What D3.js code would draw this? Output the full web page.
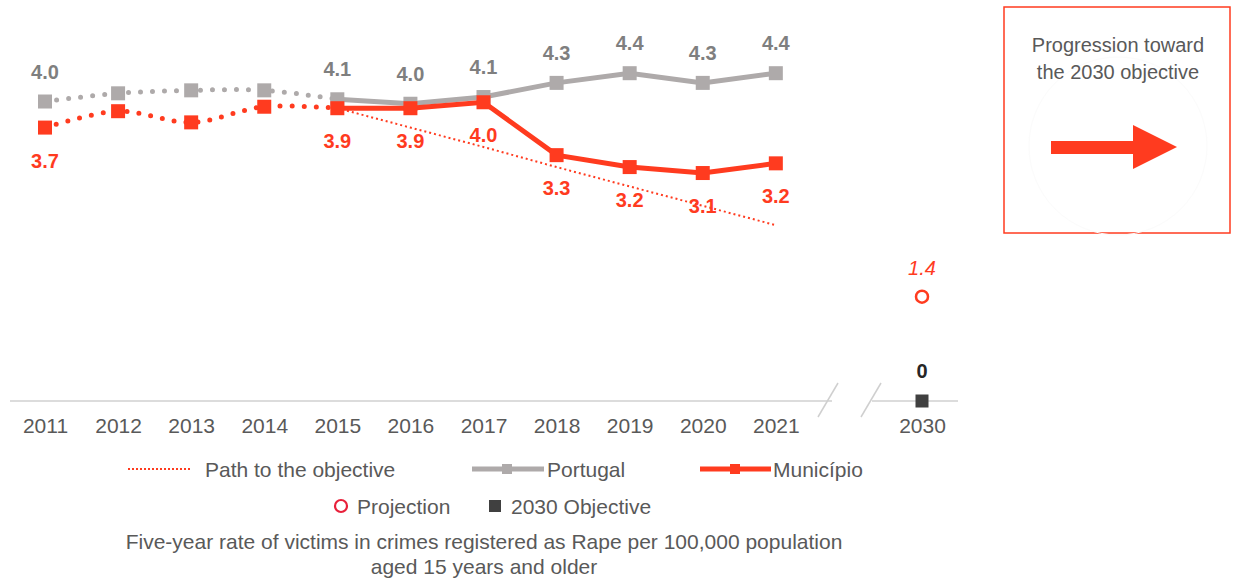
<!DOCTYPE html>
<html>
<head>
<meta charset="utf-8">
<script src="https://cdn.jsdelivr.net/npm/d3@7"></script>
<style>
  body { margin: 0; background: #fff; }
  text { font-family: "Liberation Sans", Arial, sans-serif; }
</style>
</head>
<body>
<script>
// data
var years = ["2011","2012","2013","2014","2015","2016","2017","2018","2019","2020","2021"];
var portugal = [4.02, 4.13, 4.17, 4.17, 4.05, 3.99, 4.08, 4.27, 4.40, 4.27, 4.40];
var portugalLabels = ["4.0", "", "", "", "4.1", "4.0", "4.1", "4.3", "4.4", "4.3", "4.4"];
var municipio = [3.67, 3.89, 3.74, 3.95, 3.93, 3.93, 4.01, 3.30, 3.14, 3.06, 3.19];
var municipioLabels = ["3.7", "", "", "", "3.9", "3.9", "4.0", "3.3", "3.2", "3.1", "3.2"];
var pathYears = ["2015","2016","2017","2018","2019","2020","2021"];
var pathValues = [3.93, 3.67, 3.41, 3.14, 2.88, 2.62, 2.36];
var projection = {year: "2030", value: 1.4, label: "1.4"};
var objective = {year: "2030", value: 0, label: "0"};
var axisCats = years.concat(["gap", "2030"]);

var RED = "#ff3b1f", GRAY = "#aeaaaa", DARK = "#404040", TXT = "#595959";

var svg = d3.select("body").append("svg")
  .attr("width", 1235).attr("height", 578);

var x = d3.scalePoint().domain(axisCats).range([45, 922]);
var y = d3.scaleLinear().domain([0, 5]).range([401, 28.5]);

// baseline with break
var base = 401;
svg.append("line").attr("x1", 10).attr("x2", 832).attr("y1", base).attr("y2", base)
  .attr("stroke", "#d0d0d0").attr("stroke-width", 1.5);
svg.append("line").attr("x1", 872).attr("x2", 958).attr("y1", base).attr("y2", base)
  .attr("stroke", "#d0d0d0").attr("stroke-width", 1.5);
[838, 881].forEach(function(bx) {
  svg.append("line").attr("x1", bx).attr("y1", base - 18).attr("x2", bx - 20).attr("y2", base + 16)
    .attr("stroke", "#cfcfcf").attr("stroke-width", 1.5);
});

// x axis labels
var xAxis = svg.append("g").attr("transform", "translate(0," + base + ")")
  .call(d3.axisBottom(x).tickSize(0).tickPadding(17)
    .tickFormat(function(d) { return d === "gap" ? "" : d; }));
xAxis.select(".domain").remove();
xAxis.selectAll("text").attr("font-size", 21).attr("fill", TXT)
  .style("font-family", "Liberation Sans, Arial, sans-serif");

function pts(vals, cats) {
  return vals.map(function(v, i) { return [x(cats[i]), y(v)]; });
}

var smooth = d3.line().curve(d3.curveCatmullRom.alpha(0.5));
var straight = d3.line();

var pPts = pts(portugal, years), mPts = pts(municipio, years);

// dotted early parts (2011-2015)
svg.append("path").attr("d", smooth(pPts.slice(0, 5))).attr("fill", "none")
  .attr("stroke", GRAY).attr("stroke-width", 5).attr("stroke-linecap", "round")
  .attr("stroke-dasharray", "0,12");
svg.append("path").attr("d", smooth(mPts.slice(0, 5))).attr("fill", "none")
  .attr("stroke", RED).attr("stroke-width", 5).attr("stroke-linecap", "round")
  .attr("stroke-dasharray", "0,12");

// path to the objective
svg.append("path").attr("d", straight(pts(pathValues, pathYears))).attr("fill", "none")
  .attr("stroke", RED).attr("stroke-width", 2).attr("stroke-dasharray", "2,3");

// solid parts
svg.append("path").attr("d", straight(pPts.slice(4))).attr("fill", "none")
  .attr("stroke", GRAY).attr("stroke-width", 5);
var sq = 14;
svg.selectAll(".psq").data(pPts).enter().append("rect")
  .attr("x", function(d) { return d[0] - sq / 2; }).attr("y", function(d) { return d[1] - sq / 2; })
  .attr("width", sq).attr("height", sq).attr("fill", GRAY);

svg.append("path").attr("d", straight(mPts.slice(4))).attr("fill", "none")
  .attr("stroke", RED).attr("stroke-width", 5);
svg.selectAll(".msq").data(mPts).enter().append("rect")
  .attr("x", function(d) { return d[0] - sq / 2; }).attr("y", function(d) { return d[1] - sq / 2; })
  .attr("width", sq).attr("height", sq).attr("fill", RED);

// data labels
svg.selectAll(".pl").data(pPts).enter().append("text")
  .attr("x", function(d) { return d[0]; }).attr("y", function(d) { return d[1] - 23; })
  .attr("text-anchor", "middle").attr("font-size", 20).attr("font-weight", "bold")
  .attr("fill", "#7f7f7f").text(function(d, i) { return portugalLabels[i]; });
svg.selectAll(".ml").data(mPts).enter().append("text")
  .attr("x", function(d) { return d[0]; }).attr("y", function(d) { return d[1] + 40; })
  .attr("text-anchor", "middle").attr("font-size", 20).attr("font-weight", "bold")
  .attr("fill", RED).text(function(d, i) { return municipioLabels[i]; });

// 2030 projection and objective
svg.append("circle").attr("cx", x(projection.year)).attr("cy", y(projection.value)).attr("r", 6)
  .attr("fill", "#fff").attr("stroke", RED).attr("stroke-width", 2.5);
svg.append("text").attr("x", x(projection.year)).attr("y", y(projection.value) - 22)
  .attr("text-anchor", "middle").attr("font-size", 20).attr("font-style", "italic")
  .attr("fill", RED).text(projection.label);
svg.append("rect").attr("x", x(objective.year) - 6.5).attr("y", y(objective.value) - 6.5)
  .attr("width", 13).attr("height", 13).attr("fill", DARK);
svg.append("text").attr("x", x(objective.year)).attr("y", y(objective.value) - 23)
  .attr("text-anchor", "middle").attr("font-size", 20).attr("font-weight", "bold")
  .attr("fill", "#262626").text(objective.label);

// legend
var lg = svg.append("g").attr("font-size", 21).attr("fill", TXT);
lg.append("line").attr("x1", 128).attr("x2", 190).attr("y1", 469).attr("y2", 469)
  .attr("stroke", RED).attr("stroke-width", 2).attr("stroke-dasharray", "2,2");
lg.append("text").attr("x", 205).attr("y", 477).text("Path to the objective");
lg.append("line").attr("x1", 472).attr("x2", 544).attr("y1", 469).attr("y2", 469)
  .attr("stroke", GRAY).attr("stroke-width", 5);
lg.append("rect").attr("x", 502).attr("y", 464).attr("width", 10).attr("height", 10).attr("fill", GRAY);
lg.append("text").attr("x", 547).attr("y", 477).text("Portugal");
lg.append("line").attr("x1", 700).attr("x2", 771).attr("y1", 469).attr("y2", 469)
  .attr("stroke", RED).attr("stroke-width", 5);
lg.append("rect").attr("x", 730).attr("y", 464).attr("width", 10).attr("height", 10).attr("fill", RED);
lg.append("text").attr("x", 773).attr("y", 477).text("Município");

lg.append("circle").attr("cx", 341).attr("cy", 506).attr("r", 6)
  .attr("fill", "none").attr("stroke", "#e8203a").attr("stroke-width", 2.2);
lg.append("text").attr("x", 357).attr("y", 514).text("Projection");
lg.append("rect").attr("x", 489).attr("y", 500).attr("width", 12).attr("height", 12).attr("fill", DARK);
lg.append("text").attr("x", 511).attr("y", 514).text("2030 Objective");

lg.append("text").attr("x", 484).attr("y", 549).attr("text-anchor", "middle")
  .text("Five-year rate of victims in crimes registered as Rape per 100,000 population");
lg.append("text").attr("x", 484).attr("y", 574).attr("text-anchor", "middle")
  .text("aged 15 years and older");

// progression box
var box = svg.append("g");
box.append("rect").attr("x", 1004).attr("y", 7).attr("width", 226).attr("height", 226)
  .attr("fill", "#fff").attr("stroke", RED).attr("stroke-width", 1.5);
box.append("circle").attr("cx", 1118).attr("cy", 146).attr("r", 89)
  .attr("fill", "none").attr("stroke", "#fbfbfb").attr("stroke-width", 1);
box.append("text").attr("x", 1118).attr("y", 52).attr("text-anchor", "middle")
  .attr("font-size", 20).attr("fill", TXT).text("Progression toward");
box.append("text").attr("x", 1118).attr("y", 79).attr("text-anchor", "middle")
  .attr("font-size", 20).attr("fill", TXT).text("the 2030 objective");
box.append("path")
  .attr("d", "M1051,141 L1133,141 L1133,125 L1177,147 L1133,169 L1133,154 L1051,154 Z")
  .attr("fill", RED);
</script>
</body>
</html>
